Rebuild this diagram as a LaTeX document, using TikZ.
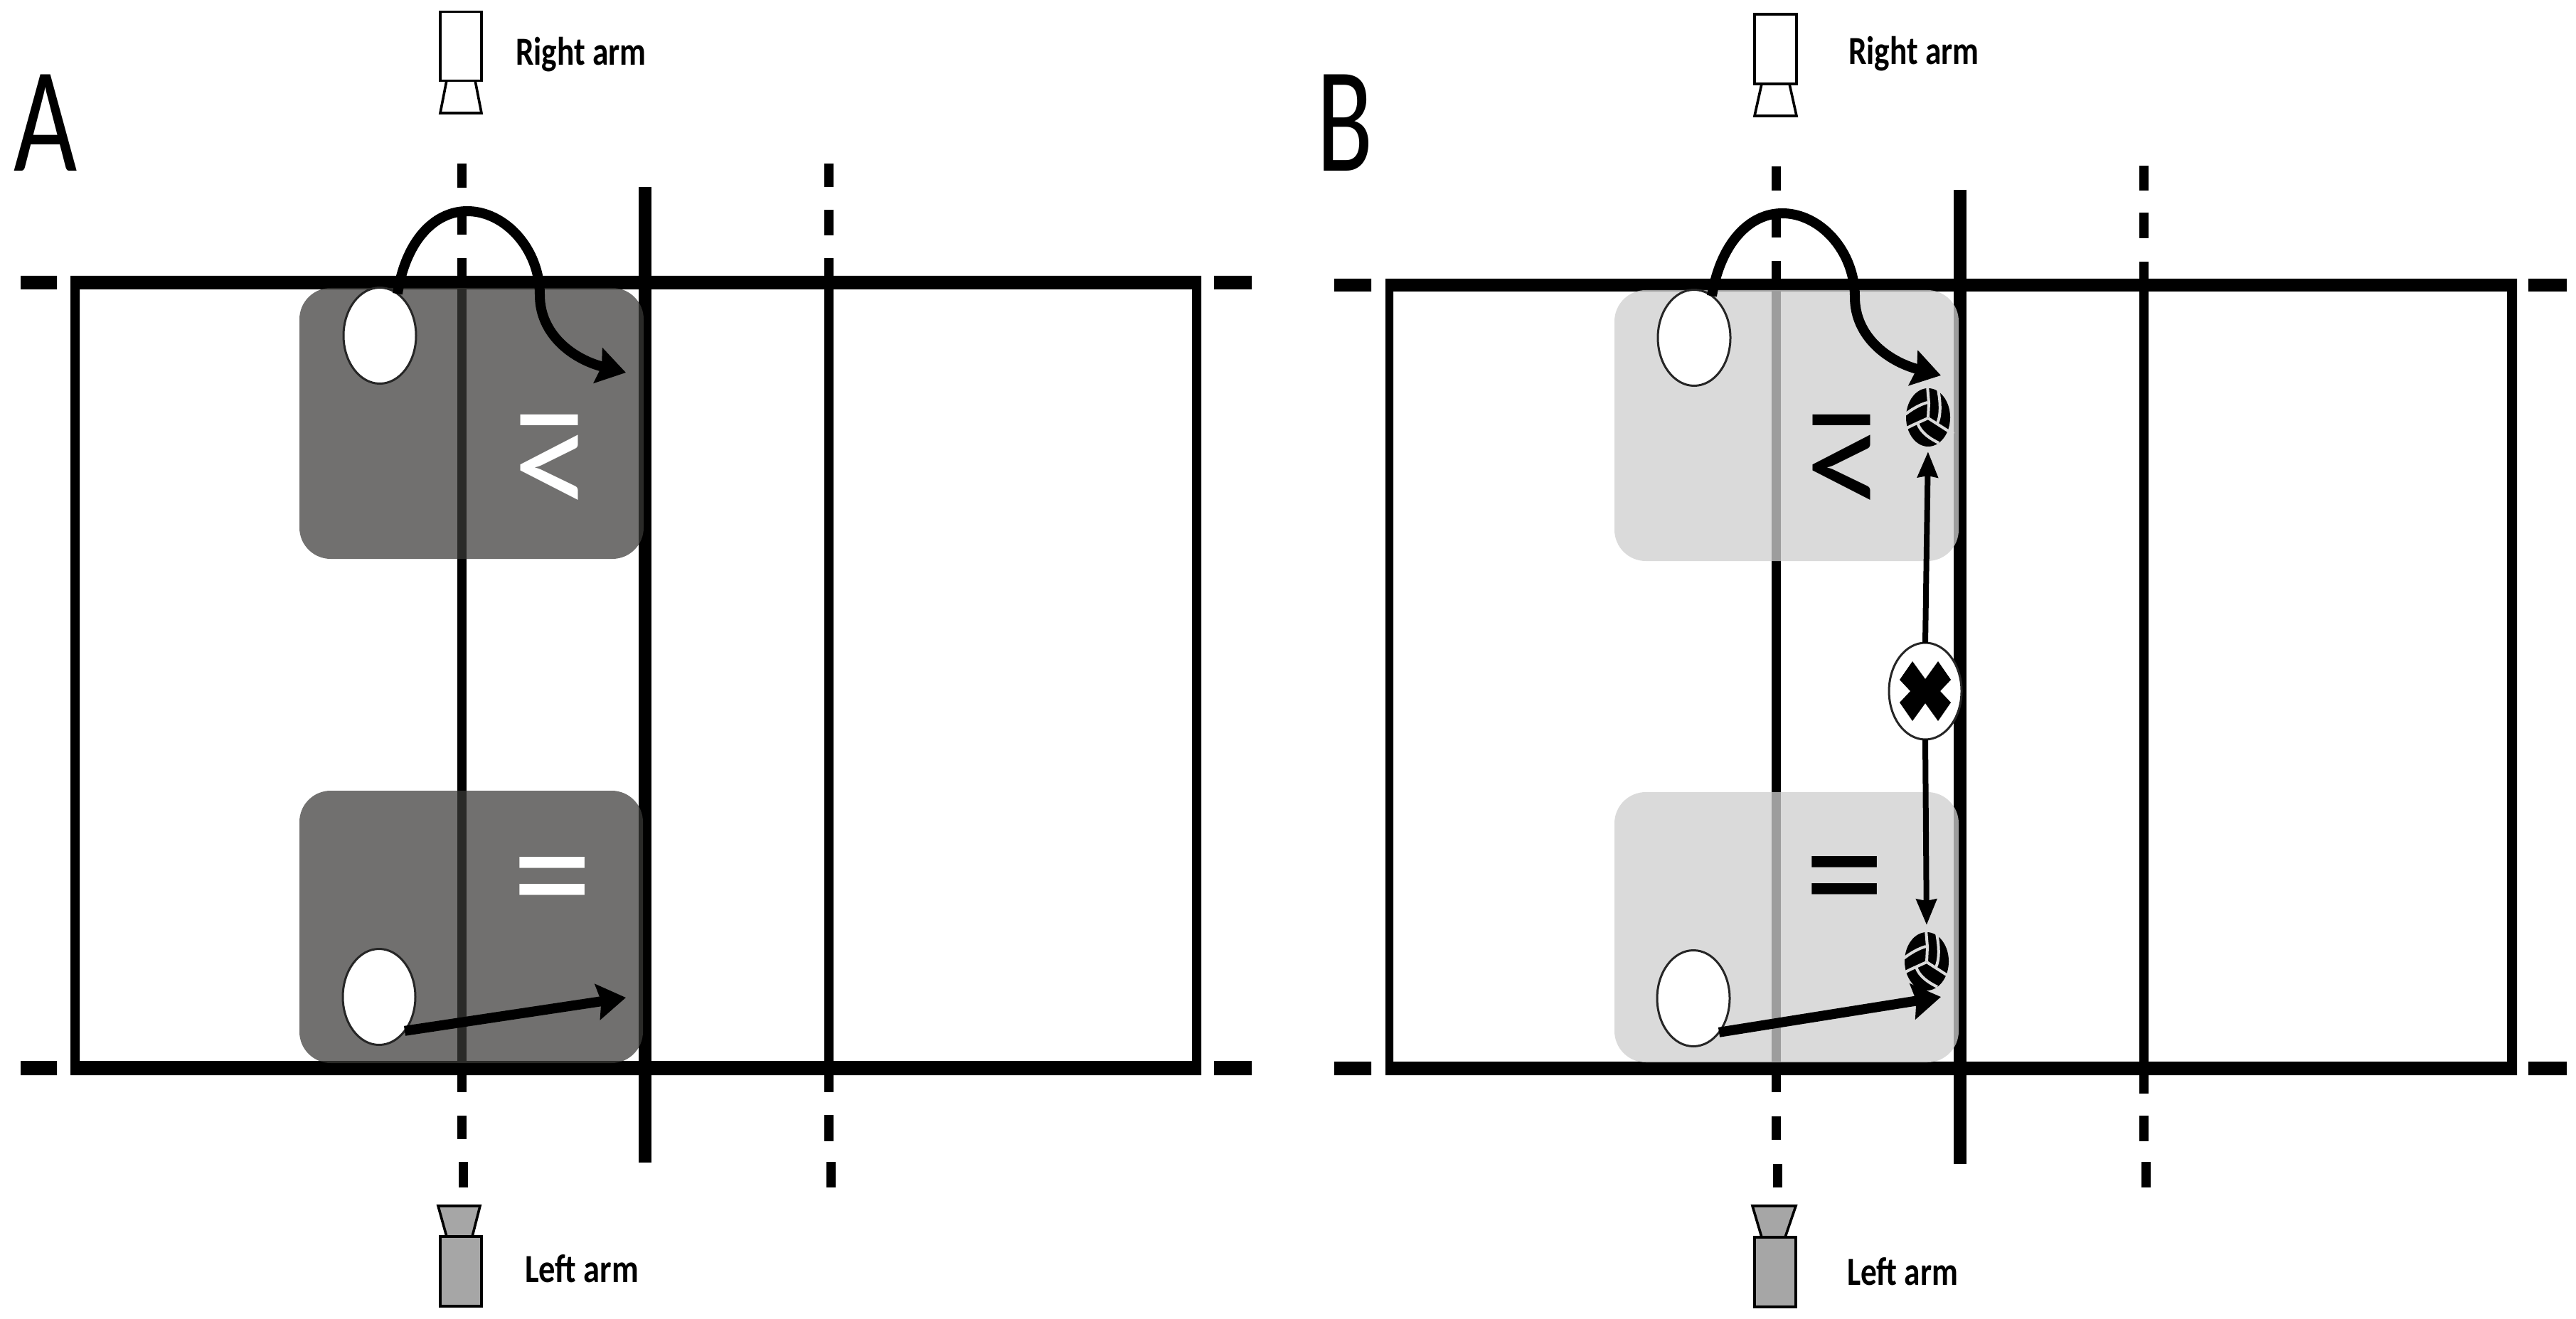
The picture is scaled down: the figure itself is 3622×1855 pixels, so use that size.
\documentclass[tikz,border=0pt]{standalone}
\usepackage{graphicx}
\usepackage{fontspec}
\setmainfont{Carlito}
\newfontfamily\symfont{Carlito}
\usetikzlibrary{shapes.geometric,arrows.meta}
\definecolor{boxdark}{rgb}{0.232,0.229,0.22}
\definecolor{boxlight}{rgb}{0.81,0.81,0.81}
\definecolor{stripe}{HTML}{DADADA}
\definecolor{camgrey}{HTML}{A6A6A6}
\tikzset{
  every node/.style={inner sep=0pt,outer sep=0pt},
  seg/.style={line width=6.5pt},
  zonebox/.style={rounded corners=22pt},
  zoneA/.style={zonebox,fill=boxdark,fill opacity=.725},
  zoneB/.style={zonebox,fill=boxlight,fill opacity=.76},
  player/.style={ellipse,draw=black!85,line width=1.5pt,fill=white,minimum width=51pt,minimum height=67.5pt},
  marker/.style={ellipse,draw=black!85,line width=1.5pt,fill=white,minimum width=51pt,minimum height=68pt},
  ball/.style={ellipse,fill=black,minimum width=31pt,minimum height=41pt},
  thickarrow/.style={line width=7pt,-{Stealth[length=20pt,width=25pt,inset=2.5pt]}},
  thinarrow/.style={line width=4pt,-{Stealth[length=18pt,width=14pt,inset=1pt]}},
  cambody/.style={draw=black,line width=1.8pt},
  armlabel/.style={anchor=base west,font=\bfseries\fontsize{28}{28}\selectfont},
  panel/.style={anchor=base west,font=\fontsize{105.6}{105.6}\selectfont},
  sign/.style={font=\symfont\fontsize{60}{60}\selectfont},
  stripeline/.style={draw=stripe,line width=2pt},
  volley/.pic={
    \draw[stripeline] (-1,-44) -- (1,-20) -- (0,0);
    \draw[stripeline] (-35,-2) .. controls (-24,-11) and (-12,-18) .. (-1,-21);
    \draw[stripeline] (0,1) -- (-22,11) -- (-36,18);
    \draw[stripeline] (-15,8) .. controls (-10,22) and (3,30) .. (15,36);
    \draw[stripeline] (0,1) -- (28,19) -- (36,23);
    \draw[stripeline] (13,-44) .. controls (18,-22) and (18,-2) .. (13,8);
  }
}
\begin{document}
\begin{tikzpicture}[x=0.5pt,y=-0.5pt]
\useasboundingbox (0,0) rectangle (3622,1855);

% ---------- Panel A: court ----------
\fill[black,even odd rule] (99,388) rectangle (1689,1512) (112,407) rectangle (1676,1492);
\fill (29,388) rectangle (80,407) (29,1492) rectangle (80,1512);
\fill (1707,388) rectangle (1760,407) (1707,1492) rectangle (1760,1512);
\draw[seg] (649,230) -- (649,264) (649,301) -- (649,330) (649,363) -- (649,1536);
\draw[seg] (649,1569) -- (649,1602) (651,1634) -- (651,1670);
\draw[seg] (1165,230) -- (1165,263) (1165,295) -- (1165,331) (1165,363) -- (1165,1536);
\draw[seg] (1165,1568) -- (1165,1605) (1168,1634) -- (1168,1670);
\draw[line width=9pt] (907,263) -- (907,1635);
\fill[zoneA] (421,405) rectangle (905,786);
\fill[zoneA] (421,1112) rectangle (904,1495);

% ---------- Panel B: court ----------
\fill[black,even odd rule] (1948,392) rectangle (3539,1512) (1959,410) rectangle (3525,1493);
\fill (1876,392) rectangle (1928,410) (1876,1493) rectangle (1928,1512);
\fill (3555,392) rectangle (3609,410) (3555,1493) rectangle (3609,1512);
\draw[seg] (2497,234) -- (2497,268) (2497,300) -- (2497,334) (2497,367) -- (2497,1536);
\draw[seg] (2497,1570) -- (2497,1603) (2499,1637) -- (2499,1670);
\draw[seg] (3014,233) -- (3014,268) (3014,299) -- (3014,335) (3014,368) -- (3014,1538);
\draw[seg] (3014,1569) -- (3014,1605) (3017,1634) -- (3017,1670);
\draw[line width=9pt] (2756,267) -- (2756,1637);
\fill[zoneB] (2270,408) rectangle (2754,789);
\fill[zoneB] (2270,1114) rectangle (2754,1494);

% ---------- Signs ----------
\node[sign,text=white] (geA) at (777,639) {\scalebox{1.85}[1.95]{\rotatebox{180}{≥}}};
\node[sign,text=white] (eqA) at (777,1257) {\scalebox{1.88}[2.0]{=}};
\node[sign,text=black] (geB) at (2594,639) {\scalebox{1.85}[1.95]{\rotatebox{180}{≥}}};
\node[sign,text=black] (eqB) at (2594,1256) {\scalebox{1.88}[2.0]{=}};

% ---------- Players ----------
\node[player] (pa1) at (534,472) {};
\node[player] (pa2) at (533,1402) {};
\node[player] (pb1) at (2382,475) {};
\node[player] (pb2) at (2381,1404) {};

% ---------- Balls and marker ----------
\node[ball] (ball1) at (2711,587) {};
\pic at (ball1) {volley};
\node[ball] (ball2) at (2709,1352) {};
\pic at (ball2) {volley};
\node[marker] (mark) at (2707,972) {};
\fill (2707,972) ++(0,-17) -- ++(18,-25) -- ++(18,26) -- ++(-15,16) -- ++(15,16) -- ++(-18,26) -- ++(-18,-25)
  -- ++(-18,25) -- ++(-18,-26) -- ++(15,-16) -- ++(-15,-16) -- ++(18,-26) -- cycle;

% ---------- Arrows ----------
\coordinate (tipA1) at (880,524);
\coordinate (tipA2) at (880,1403);
\coordinate (tipB1) at (2729,528);
\coordinate (tipB2) at (2729,1402);
\draw[thickarrow] (pa1.67) .. controls (570,340) and (610,297) .. (657,297)
  .. controls (710,297) and (759,350) .. (759,415) .. controls (759,470) and (805,505) .. (tipA1);
\draw[thickarrow] (pa2.-53) -- (tipA2);
\draw[thickarrow] (pb1.67) .. controls (2419,343) and (2459,300) .. (2506,300)
  .. controls (2559,300) and (2608,353) .. (2608,418) .. controls (2608,473) and (2654,508) .. (tipB1);
\draw[thickarrow] (pb2.-53) -- (tipB2);
\draw[thinarrow,shorten >=3.5pt] (mark.north) -- (ball1.south);
\draw[thinarrow,shorten >=5pt] (mark.south) -- (ball2.north);

% ---------- Cameras ----------
\draw[cambody,fill=white] (628,113) -- (668,113) -- (677,159) -- (619,159) -- cycle;
\node[draw=black,line width=1.8pt,fill=white,minimum width=29pt,minimum height=48.5pt] (camAr) at (648,65) {};
\draw[cambody,fill=camgrey] (616,1696) -- (675,1696) -- (664,1739) -- (628,1739) -- cycle;
\node[draw=black,line width=1.8pt,fill=camgrey,minimum width=29pt,minimum height=49pt] (camAl) at (648,1788) {};
\draw[cambody,fill=white] (2477,118) -- (2516,118) -- (2526,163) -- (2467,163) -- cycle;
\node[draw=black,line width=1.8pt,fill=white,minimum width=29.5pt,minimum height=49pt] (camBr) at (2496.5,69) {};
\draw[cambody,fill=camgrey] (2464,1696) -- (2525,1696) -- (2510,1740) -- (2477,1740) -- cycle;
\node[draw=black,line width=1.8pt,fill=camgrey,minimum width=29pt,minimum height=49pt] (camBl) at (2496,1789) {};

% ---------- Labels ----------
\node[armlabel] (lbAr) at (725,92) {\scalebox{.81}[1]{Right arm}};
\node[armlabel] (lbAl) at (738,1803) {\scalebox{.83}[1]{Left arm}};
\node[armlabel] (lbBr) at (2599,91) {\scalebox{.81}[1]{Right arm}};
\node[armlabel] (lbBl) at (2597,1807) {\scalebox{.81}[1]{Left arm}};
\node[panel] (lblA) at (19,241) {\scalebox{.73}[1]{A}};
\node[panel] (lblB) at (1851,241) {\scalebox{.69}[1]{B}};
\end{tikzpicture}
\end{document}
